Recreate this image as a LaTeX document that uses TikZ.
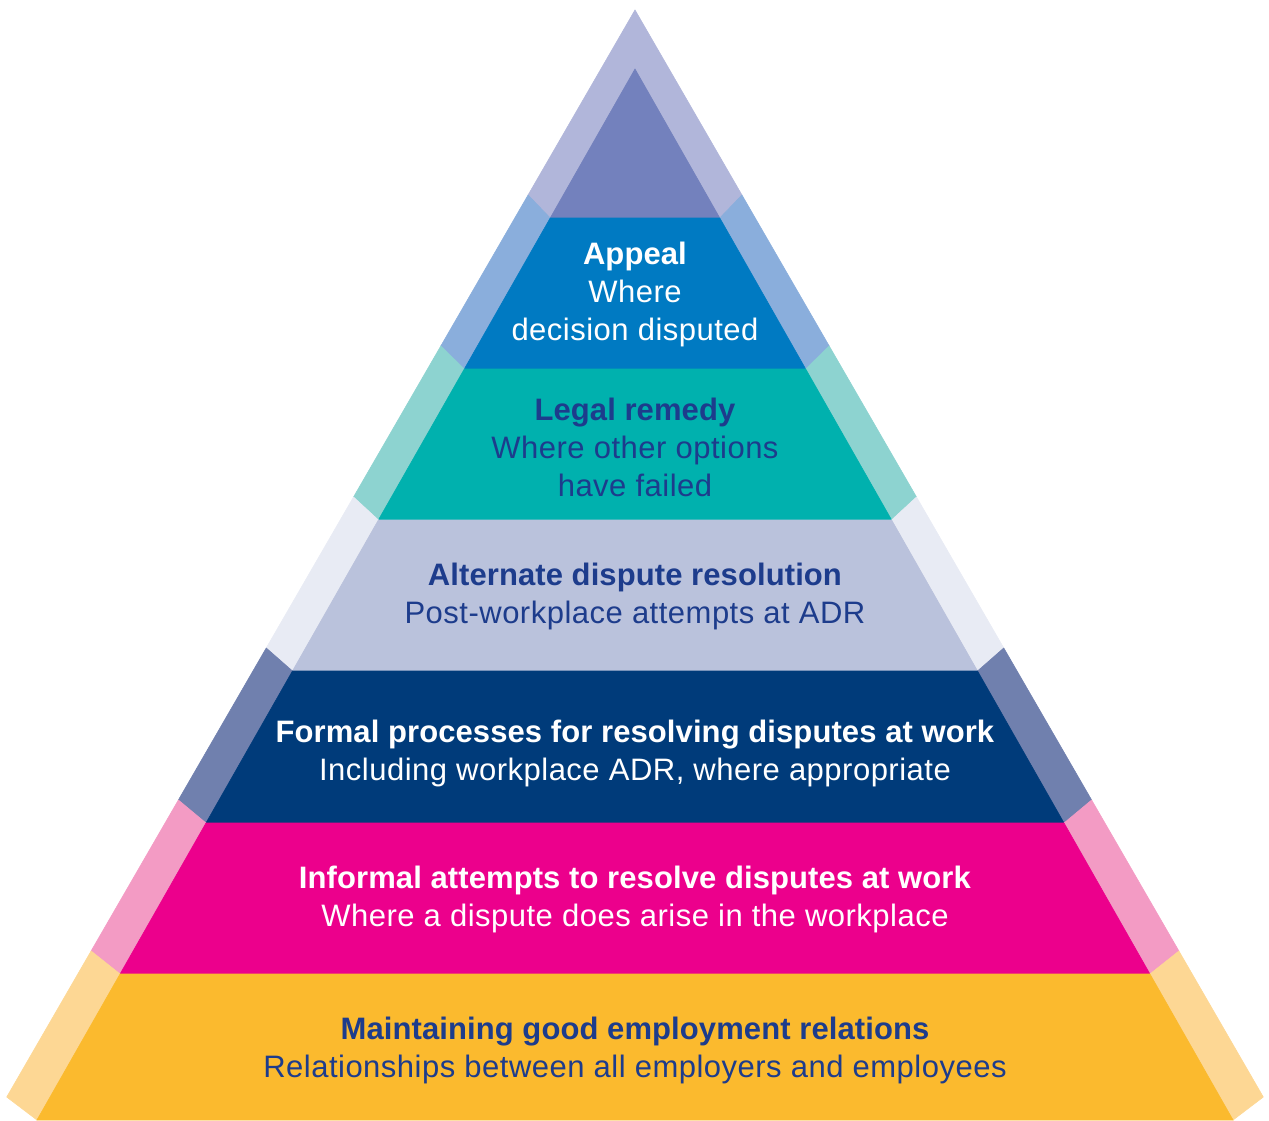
\documentclass[tikz,border=0pt]{standalone}
\usepackage{fontspec}
\setmainfont{Liberation Sans}[LetterSpace=1.6, BoldFeatures={LetterSpace=0.3}]

\definecolor{apexin}{HTML}{7381BD}
\definecolor{apexout}{HTML}{B1B6DA}
\definecolor{appealin}{HTML}{007AC2}
\definecolor{appealout}{HTML}{8AAEDC}
\definecolor{legalin}{HTML}{00B1AE}
\definecolor{legalout}{HTML}{8DD3D0}
\definecolor{adrin}{HTML}{BAC2DC}
\definecolor{adrout}{HTML}{E8EBF4}
\definecolor{formalin}{HTML}{003B7A}
\definecolor{formalout}{HTML}{7080AE}
\definecolor{informalin}{HTML}{EC008C}
\definecolor{informalout}{HTML}{F39BC4}
\definecolor{goodin}{HTML}{FBBA2E}
\definecolor{goodout}{HTML}{FDD794}
\definecolor{darktext}{HTML}{1D3C8C}

\begin{document}
\begin{tikzpicture}[x=1pt, y=-1pt,
    tier/.style={align=center, font=\fontsize{31}{38}\selectfont, text=#1, inner sep=0pt},
    tier/.default=white,
    slab/.style={fill=#1, draw=#1, line width=0.6pt}
]
\useasboundingbox (0,0) rectangle (1269,1120);

% inner edge: x = cx -/+ 0.569*(y-69), outer edge: x = cx -/+ 0.578*(y-10)
\def\cx{635}
\def\cut{23}

% --- Apex ---
\pgfmathsetmacro\ai{0.569*(218-69)}
\pgfmathsetmacro\ao{0.578*(218-\cut-10)}
\fill[slab=apexout] (\cx,10) -- (\cx-\ao,218-\cut) -- (\cx-\ai,218) -- (\cx+\ai,218) -- (\cx+\ao,218-\cut) -- cycle;
\fill[slab=apexin] (\cx,69) -- (\cx-\ai,218) -- (\cx+\ai,218) -- cycle;

% --- Tiers: trapezoid plus the two side strips ---
\foreach \yt/\yb/\cin/\cout in {218/369/appealin/appealout,
                                369/520/legalin/legalout,
                                520/671/adrin/adrout,
                                671/823/formalin/formalout,
                                823/974/informalin/informalout,
                                974/1120/goodin/goodout}{
    \pgfmathsetmacro\it{0.569*(\yt-69)}
    \pgfmathsetmacro\ib{0.569*(\yb-69)}
    \pgfmathsetmacro\ot{0.578*(\yt-\cut-10)}
    \pgfmathsetmacro\ob{0.578*(\yb-\cut-10)}
    \fill[slab=\cout] (\cx-\ot,\yt-\cut) -- (\cx-\it,\yt) -- (\cx-\ib,\yb) -- (\cx-\ob,\yb-\cut) -- cycle;
    \fill[slab=\cout] (\cx+\ot,\yt-\cut) -- (\cx+\it,\yt) -- (\cx+\ib,\yb) -- (\cx+\ob,\yb-\cut) -- cycle;
    \fill[slab=\cin] (\cx-\it,\yt) -- (\cx+\it,\yt) -- (\cx+\ib,\yb) -- (\cx-\ib,\yb) -- cycle;
}

% --- Labels ---
\node[tier] (appeal) at (\cx,294) {\textbf{Appeal}\\Where\\decision disputed};
\node[tier=darktext] (legal) at (\cx,447) {\textbf{Legal remedy}\\Where other options\\have failed};
\node[tier=darktext] (adr) at (\cx,596) {\textbf{Alternate dispute resolution}\\Post-workplace attempts at ADR};
\node[tier] (formal) at (\cx,753) {\textbf{Formal processes for resolving disputes at work}\\Including workplace ADR, where appropriate};
\node[tier] (informal) at (\cx,899) {\textbf{Informal attempts to resolve disputes at work}\\Where a dispute does arise in the workplace};
\node[tier=darktext] (good) at (\cx,1050) {\textbf{Maintaining good employment relations}\\Relationships between all employers and employees};

\end{tikzpicture}
\end{document}
